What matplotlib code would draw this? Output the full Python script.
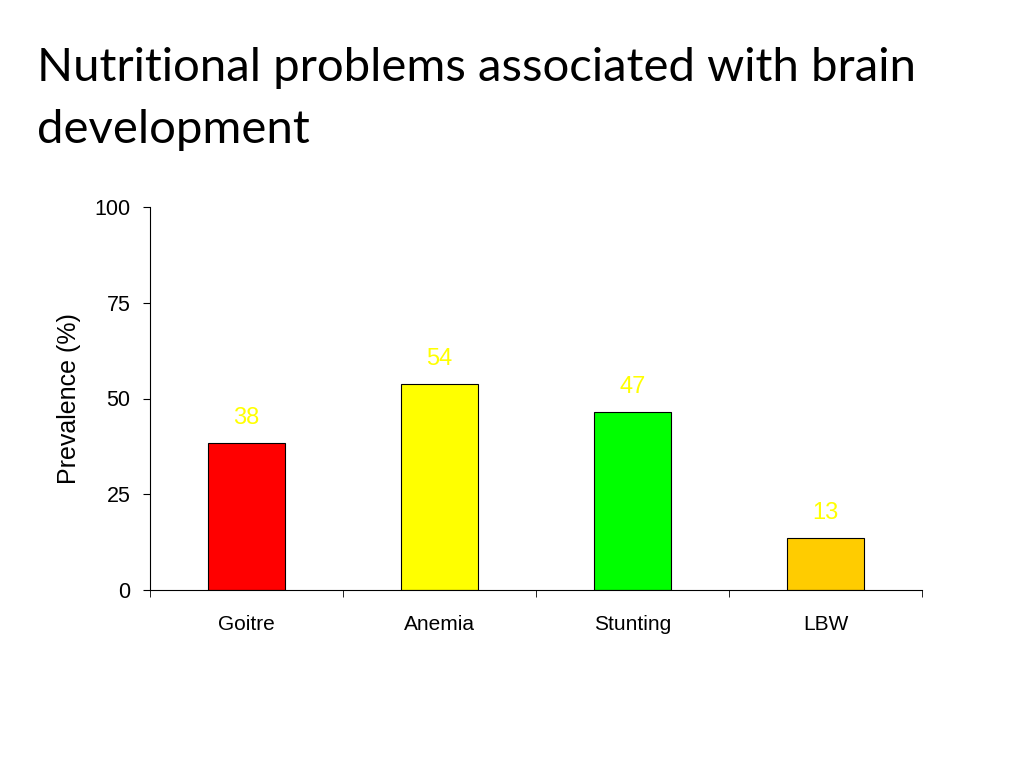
import matplotlib
matplotlib.use("Agg")
import matplotlib.pyplot as plt

categories = ["Goitre", "Anemia", "Stunting", "LBW"]
values = [38.3, 53.7, 46.5, 13.6]
value_labels = ["38", "54", "47", "13"]
colors = ["#FF0000", "#FFFF00", "#00FF00", "#FFCC00"]
title = "Nutritional problems associated with brain\ndevelopment"
ylabel = "Prevalence (%)"
yticks = [0, 25, 50, 75, 100]

fig = plt.figure(figsize=(10.24, 7.68), dpi=100)
fig.text(37/1024, 1 - 47/768, title, fontsize=34, family=["Lato", "DejaVu Sans"],
         va="top", ha="left", linespacing=1.6)

ax = fig.add_axes([150/1024, 1 - 590/768, 772/1024, 383/768])
x = list(range(len(categories)))
ax.bar(x, values, width=0.4, color=colors, edgecolor="black", linewidth=0.8)
for xi, v, lab in zip(x, values, value_labels):
    ax.text(xi, v + 3.7, lab, ha="center", va="bottom", color="#FFFF00",
            fontsize=17, family="Liberation Sans")

ax.set_xlim(-0.5, len(categories) - 0.5)
ax.set_ylim(0, 100)
ax.set_yticks(yticks)
ax.set_yticklabels([str(t) for t in yticks], fontsize=15.5, family="Liberation Sans")
ax.set_xticks(x)
ax.set_xticklabels(categories, fontsize=15, family="Liberation Sans")
ax.tick_params(axis="x", length=0, pad=18)
ax.set_xticks([i - 0.5 for i in range(len(categories) + 1)], minor=True)
ax.tick_params(axis="x", which="minor", length=5, direction="out")
ax.tick_params(axis="y", length=5, direction="out", pad=9)
ax.set_ylabel(ylabel, fontsize=18, family="Liberation Sans", labelpad=10)
for s in ["top", "right"]:
    ax.spines[s].set_visible(False)
for s in ["left", "bottom"]:
    ax.spines[s].set_linewidth(0.8)

fig.savefig("out.png", dpi=100)
